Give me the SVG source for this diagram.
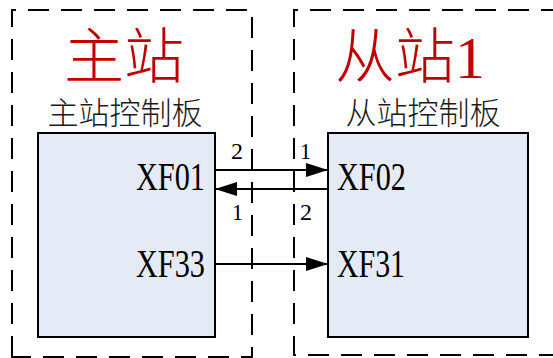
<svg xmlns="http://www.w3.org/2000/svg" width="553" height="358" viewBox="0 0 553 358">
<style>
.grp{fill:none;stroke:#000;stroke-width:2;stroke-dasharray:21 12}
.box{fill:#E5EBF6;stroke:#000;stroke-width:2}
.ttl{font-family:"Liberation Serif","Noto Sans CJK SC",serif;font-size:60px;font-weight:300;fill:#C00000;text-anchor:middle}
.sub{font-family:"Liberation Serif","Noto Sans CJK SC",serif;font-size:31px;font-weight:300;fill:#1a1a1a;text-anchor:middle}
.port{font-family:"Liberation Serif",serif;font-size:39px;fill:#000}
.num{font-family:"Liberation Serif",serif;font-size:23px;fill:#000}
.wire{stroke:#000;stroke-width:2;fill:none}
</style>
<defs>
<marker id="ah" markerUnits="userSpaceOnUse" markerWidth="24" markerHeight="16" refX="22" refY="7" orient="auto">
<path d="M0,0 L22,7 L0,14 z" fill="#000"/>
</marker>
</defs>
<rect width="553" height="358" fill="#fff"/>
<g id="master-group">
<path class="grp" d="M12,357 L12,10 L252,10 L252,357 Z"/>
<text class="ttl" x="124" y="78">主站</text>
<text class="sub" x="125" y="124">主站控制板</text>
</g>
<g id="slave-group">
<path class="grp" d="M560,355 L294,355 L294,10 L560,10"/>
<text class="ttl" x="410" y="78">从站1</text>
<text class="sub" x="423" y="124">从站控制板</text>
</g>
<g id="master-board">
<rect class="box" x="38" y="133" width="177" height="204"/>
<text class="port" x="136" y="190" textLength="69" lengthAdjust="spacingAndGlyphs">XF01</text>
<text class="port" x="136" y="277" textLength="69" lengthAdjust="spacingAndGlyphs">XF33</text>
</g>
<g id="slave-board">
<rect class="box" x="328" y="133" width="200" height="204"/>
<text class="port" x="337" y="190" textLength="69" lengthAdjust="spacingAndGlyphs">XF02</text>
<text class="port" x="337" y="277" textLength="68" lengthAdjust="spacingAndGlyphs">XF31</text>
</g>
<g id="connectors">
<line class="wire" x1="216" y1="170" x2="328" y2="170" marker-end="url(#ah)"/>
<line class="wire" x1="328" y1="189" x2="215" y2="189" marker-end="url(#ah)"/>
<line class="wire" x1="216" y1="264" x2="328" y2="264" marker-end="url(#ah)"/>
<text class="num" x="231" y="159" textLength="12" lengthAdjust="spacingAndGlyphs">2</text>
<text class="num" x="300" y="159" textLength="11" lengthAdjust="spacingAndGlyphs">1</text>
<text class="num" x="232" y="220" textLength="11" lengthAdjust="spacingAndGlyphs">1</text>
<text class="num" x="300" y="220" textLength="12" lengthAdjust="spacingAndGlyphs">2</text>
</g>
</svg>
